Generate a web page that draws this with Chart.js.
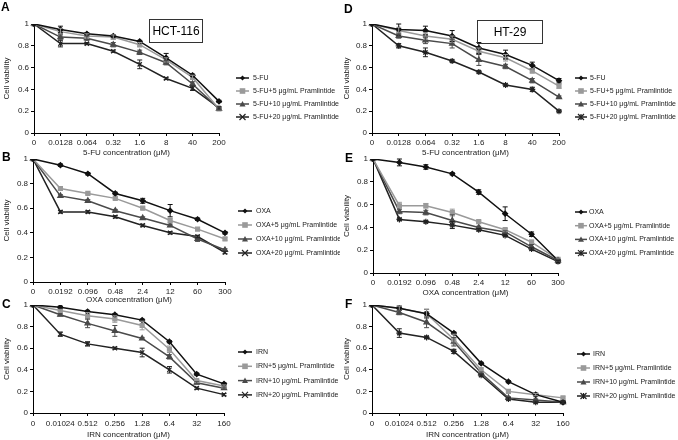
<!DOCTYPE html>
<html>
<head>
<meta charset="utf-8">
<script src="https://cdn.jsdelivr.net/npm/chart.js"></script>
<style>
  body { margin: 0; background: #fff; }
  #fig { position: relative; width: 678px; height: 440px; overflow: hidden; font-family: "Liberation Sans", Arial, sans-serif; }
  #fig canvas { position: absolute; }
  .plabel { position: absolute; font-weight: bold; font-size: 12px; color: #000; }
  .cellbox { position: absolute; border: 1px solid #333; font-size: 12px; text-align: center; box-sizing: border-box; }
</style>
</head>
<body>
<div id="fig">
  <canvas id="cA" width="340" height="160" style="left:0;top:0"></canvas>
  <canvas id="cD" width="338" height="160" style="left:340px;top:0"></canvas>
  <canvas id="cB" width="340" height="160" style="left:0;top:145px"></canvas>
  <canvas id="cE" width="338" height="155" style="left:340px;top:145px"></canvas>
  <canvas id="cC" width="340" height="150" style="left:0;top:290px"></canvas>
  <canvas id="cF" width="338" height="150" style="left:340px;top:290px"></canvas>
  <div class="plabel" style="left:1px;top:0px">A</div>
  <div class="plabel" style="left:344px;top:2px">D</div>
  <div class="plabel" style="left:2px;top:150px">B</div>
  <div class="plabel" style="left:345px;top:151px">E</div>
  <div class="plabel" style="left:2px;top:297px">C</div>
  <div class="plabel" style="left:345px;top:297px">F</div>
  <div class="cellbox" style="left:149px;top:19px;width:54px;height:24px;line-height:22px">HCT-116</div>
  <div class="cellbox" style="left:477px;top:20px;width:66px;height:24px;line-height:22px">HT-29</div>
</div>
<script>
const fuLabels = ['0', '0.0128', '0.064', '0.32', '1.6', '8', '40', '200']
const oxaLabels = ['0', '0.0192', '0.096', '0.48', '2.4', '12', '60', '300']
const irnLabels = ['0', '0.01024', '0.512', '0.256', '1.28', '6.4', '32', '160']

// A - HCT-116, 5-FU
const hctFu    = [1, 0.95, 0.91, 0.89, 0.84, 0.69, 0.53, 0.29]
const hctFu5   = [1, 0.93, 0.89, 0.88, 0.81, 0.67, 0.51, 0.22]
const hctFu10  = [1, 0.88, 0.87, 0.81, 0.74, 0.645, 0.45, 0.22]
const hctFu20  = [1, 0.82, 0.82, 0.75, 0.63, 0.50, 0.41, 0.23]
const hctFuErr   = [0, 0.03, 0.01, 0.01, 0.01, 0.04, 0.01, 0.01]
const hctFu5Err  = [0, 0.03, 0.02, 0.02, 0.02, 0.02, 0.02, 0.01]
const hctFu10Err = [0, 0.02, 0.02, 0.02, 0.02, 0.02, 0.02, 0.01]
const hctFu20Err = [0, 0.03, 0.01, 0.01, 0.04, 0.01, 0.02, 0.01]

// D - HT-29, 5-FU
const htFu    = [1, 0.95, 0.94, 0.89, 0.78, 0.72, 0.62, 0.48]
const htFu5   = [1, 0.94, 0.89, 0.86, 0.75, 0.69, 0.57, 0.43]
const htFu10  = [1, 0.89, 0.85, 0.82, 0.67, 0.61, 0.48, 0.33]
const htFu20  = [1, 0.80, 0.74, 0.66, 0.56, 0.44, 0.40, 0.20]
const htFuErr   = [0, 0.05, 0.04, 0.05, 0.05, 0.04, 0.03, 0.02]
const htFu5Err  = [0, 0.03, 0.03, 0.03, 0.03, 0.03, 0.02, 0.02]
const htFu10Err = [0, 0.02, 0.03, 0.04, 0.05, 0.02, 0.02, 0.01]
const htFu20Err = [0, 0.02, 0.04, 0.01, 0.01, 0.01, 0.02, 0.01]

// B - HCT-116, OXA
const hctOxa    = [1, 0.95, 0.88, 0.72, 0.66, 0.58, 0.51, 0.40]
const hctOxa5   = [1, 0.76, 0.72, 0.68, 0.60, 0.50, 0.43, 0.35]
const hctOxa10  = [1, 0.70, 0.66, 0.58, 0.52, 0.46, 0.35, 0.26]
const hctOxa20  = [1, 0.57, 0.57, 0.53, 0.46, 0.40, 0.37, 0.24]
const hctOxaErr   = [0, 0.01, 0.01, 0.01, 0.02, 0.05, 0.01, 0.01]
const hctOxa5Err  = [0, 0.01, 0.01, 0.01, 0.01, 0.02, 0.01, 0.01]
const hctOxa10Err = [0, 0.01, 0.01, 0.01, 0.01, 0.01, 0.02, 0.01]
const hctOxa20Err = [0, 0.01, 0.01, 0.01, 0.01, 0.01, 0.01, 0.01]

// E - HT-29, OXA
const htOxa    = [1, 0.97, 0.93, 0.87, 0.71, 0.52, 0.34, 0.11]
const htOxa5   = [1, 0.59, 0.59, 0.53, 0.45, 0.38, 0.27, 0.12]
const htOxa10  = [1, 0.54, 0.53, 0.46, 0.40, 0.36, 0.23, 0.11]
const htOxa20  = [1, 0.47, 0.45, 0.42, 0.38, 0.33, 0.21, 0.10]
const htOxaErr   = [0, 0.03, 0.02, 0.01, 0.02, 0.06, 0.02, 0.01]
const htOxa5Err  = [0, 0.03, 0.02, 0.03, 0.01, 0.01, 0.02, 0.01]
const htOxa10Err = [0, 0.02, 0.02, 0.05, 0.01, 0.01, 0.02, 0.01]
const htOxa20Err = [0, 0.01, 0.01, 0.03, 0.01, 0.01, 0.01, 0.01]

// C - HCT-116, IRN
const hctIrn    = [1, 0.98, 0.94, 0.91, 0.86, 0.66, 0.36, 0.27]
const hctIrn5   = [1, 0.95, 0.90, 0.87, 0.81, 0.59, 0.30, 0.25]
const hctIrn10  = [1, 0.91, 0.83, 0.76, 0.69, 0.52, 0.28, 0.23]
const hctIrn20  = [1, 0.73, 0.64, 0.60, 0.56, 0.40, 0.23, 0.17]
const hctIrnErr   = [0, 0.01, 0.01, 0.01, 0.01, 0.01, 0.01, 0.01]
const hctIrn5Err  = [0, 0.01, 0.03, 0.03, 0.04, 0.03, 0.01, 0.01]
const hctIrn10Err = [0, 0.01, 0.04, 0.05, 0.01, 0.02, 0.01, 0.01]
const hctIrn20Err = [0, 0.02, 0.02, 0.01, 0.04, 0.03, 0.01, 0.01]

// F - HT-29, IRN
const htIrn    = [1, 0.97, 0.92, 0.74, 0.46, 0.29, 0.17, 0.10]
const htIrn5   = [1, 0.97, 0.92, 0.68, 0.40, 0.20, 0.17, 0.14]
const htIrn10  = [1, 0.93, 0.84, 0.66, 0.37, 0.14, 0.12, 0.10]
const htIrn20  = [1, 0.74, 0.70, 0.57, 0.35, 0.13, 0.10, 0.10]
const htIrnErr   = [0, 0.02, 0.04, 0.01, 0.01, 0.01, 0.01, 0.01]
const htIrn5Err  = [0, 0.02, 0.04, 0.05, 0.02, 0.01, 0.01, 0.01]
const htIrn10Err = [0, 0.02, 0.05, 0.04, 0.01, 0.01, 0.01, 0.01]
const htIrn20Err = [0, 0.04, 0.01, 0.02, 0.01, 0.01, 0.01, 0.01]

const suffixes = ['', '+5 μg/mL Pramlintide', '+10 μg/mL Pramlintide', '+20 μg/mL Pramlintide']
const lineColors = ['#111111', '#9a9a9a', '#4a4a4a', '#222222']
const FONT = '"Liberation Sans", Arial, sans-serif'

// marker used in plot and legend
function drawMarker(ctx, style, x, y, r, color) {
  ctx.save()
  ctx.fillStyle = color
  ctx.strokeStyle = color
  ctx.lineWidth = 1.2
  ctx.beginPath()
  if (style === 'rectRot') {
    ctx.moveTo(x, y - r); ctx.lineTo(x + r, y); ctx.lineTo(x, y + r); ctx.lineTo(x - r, y); ctx.closePath(); ctx.fill()
  } else if (style === 'rect') {
    ctx.rect(x - r, y - r, 2 * r, 2 * r); ctx.fill()
  } else if (style === 'triangle') {
    ctx.moveTo(x, y - r); ctx.lineTo(x + r, y + r * 0.8); ctx.lineTo(x - r, y + r * 0.8); ctx.closePath(); ctx.fill()
  } else {
    ctx.moveTo(x - r, y - r); ctx.lineTo(x + r, y + r); ctx.moveTo(x + r, y - r); ctx.lineTo(x - r, y + r)
    if (style === 'star') { ctx.moveTo(x, y - r); ctx.lineTo(x, y + r) }
    ctx.stroke()
  }
  ctx.restore()
}

const errorBars = {
  id: 'errorBars',
  afterDatasetsDraw(chart) {
    const ctx = chart.ctx
    const ys = chart.scales.y
    chart.data.datasets.forEach((ds, i) => {
      const meta = chart.getDatasetMeta(i)
      ctx.save()
      ctx.strokeStyle = ds.borderColor
      ctx.lineWidth = 1
      meta.data.forEach((pt, j) => {
        const e = ds.err[j]
        if (!e) return
        const y1 = ys.getPixelForValue(ds.data[j] + e)
        const y2 = ys.getPixelForValue(ds.data[j] - e)
        ctx.beginPath()
        ctx.moveTo(pt.x, y1); ctx.lineTo(pt.x, y2)
        ctx.moveTo(pt.x - 2.5, y1); ctx.lineTo(pt.x + 2.5, y1)
        ctx.moveTo(pt.x - 2.5, y2); ctx.lineTo(pt.x + 2.5, y2)
        ctx.stroke()
      })
      ctx.restore()
    })
  }
}

const sideLegend = {
  id: 'sideLegend',
  afterDraw(chart) {
    const o = chart.options.plugins.sideLegend
    const ctx = chart.ctx
    chart.data.datasets.forEach((ds, i) => {
      const y = o.y + i * o.gap
      ctx.save()
      ctx.strokeStyle = ds.borderColor
      ctx.lineWidth = 1.5
      ctx.beginPath()
      ctx.moveTo(o.x, y); ctx.lineTo(o.x + o.len, y)
      ctx.stroke()
      ctx.restore()
      drawMarker(ctx, ds.pointStyle, o.x + o.len / 2, y, ds.pointRadius, ds.borderColor)
      ctx.save()
      ctx.fillStyle = '#222'
      ctx.font = '7px ' + FONT
      ctx.textBaseline = 'middle'
      ctx.fillText(ds.label, o.textX, y)
      ctx.restore()
    })
  }
}

function make_chart(id, p) {
  const styles = ['rectRot', 'rect', 'triangle', p.xStyle]
  const radii = [2.5, 2.8, 3, 3]
  const datasets = p.series.map((s, i) => ({
    label: p.drug + suffixes[i],
    data: s,
    err: p.errs[i],
    borderColor: lineColors[i],
    backgroundColor: lineColors[i],
    borderWidth: 1.5,
    pointStyle: styles[i],
    pointRadius: radii[i],
    pointBorderWidth: 1.2,
    tension: 0,
    fill: false
  }))
  new Chart(document.getElementById(id), {
    type: 'line',
    data: { labels: p.labels, datasets: datasets },
    plugins: [errorBars, sideLegend],
    options: {
      responsive: false,
      animation: false,
      devicePixelRatio: 1,
      layout: { padding: { left: 0, top: p.top, right: p.right, bottom: 0 } },
      plugins: {
        legend: { display: false },
        tooltip: { enabled: false },
        sideLegend: p.legend
      },
      scales: {
        x: {
          type: 'category',
          offset: false,
          grid: { display: true, drawOnChartArea: false, drawTicks: true, tickLength: 3, color: '#000', tickColor: '#000' },
          border: { display: true, color: '#000', width: 1 },
          ticks: { color: '#222', font: { family: FONT, size: 8 }, padding: p.tickPad, maxRotation: 0, autoSkip: false },
          title: { display: true, text: p.xTitle, color: '#222', font: { family: FONT, size: 8 }, padding: { top: 0, bottom: p.titlePad } },
          afterFit: s => { s.height = p.xHeight; s.paddingLeft = 0; s.paddingRight = 0 }
        },
        y: {
          min: 0,
          max: 1,
          grid: { display: true, drawOnChartArea: false, drawTicks: true, tickLength: 3, color: '#000', tickColor: '#000' },
          border: { display: true, color: '#000', width: 1 },
          ticks: { stepSize: 0.1, color: '#222', font: { family: FONT, size: 8 }, padding: 2,
                   callback: v => String(Number(v.toFixed(1))) },
          title: { display: true, text: 'Cell viability', color: '#222', font: { family: FONT, size: 8 }, padding: { top: 2, bottom: 2 } },
          afterFit: s => { s.width = p.yWidth; s.paddingTop = 0; s.paddingBottom = 0 }
        }
      }
    }
  })
}

make_chart('cA', {
  labels: fuLabels, drug: '5-FU', xTitle: '5-FU concentration (μM)', xStyle: 'crossRot',
  series: [hctFu, hctFu5, hctFu10, hctFu20], errs: [hctFuErr, hctFu5Err, hctFu10Err, hctFu20Err],
  top: 24, right: 121, yWidth: 34, xHeight: 27, tickPad: 2, titlePad: 2,
  legend: { x: 236, len: 13, textX: 253, y: 78, gap: 13 }
})
make_chart('cD', {
  labels: fuLabels, drug: '5-FU', xTitle: '5-FU concentration (μM)', xStyle: 'star',
  series: [htFu, htFu5, htFu10, htFu20], errs: [htFuErr, htFu5Err, htFu10Err, htFu20Err],
  top: 24, right: 119, yWidth: 32, xHeight: 27, tickPad: 2, titlePad: 2,
  legend: { x: 235, len: 12, textX: 250, y: 78, gap: 13 }
})
make_chart('cB', {
  labels: oxaLabels, drug: 'OXA', xTitle: 'OXA concentration (μM)', xStyle: 'crossRot',
  series: [hctOxa, hctOxa5, hctOxa10, hctOxa20], errs: [hctOxaErr, hctOxa5Err, hctOxa10Err, hctOxa20Err],
  top: 14, right: 115, yWidth: 33, xHeight: 23, tickPad: 2, titlePad: 0,
  legend: { x: 238, len: 14, textX: 256, y: 66, gap: 14 }
})
make_chart('cE', {
  labels: oxaLabels, drug: 'OXA', xTitle: 'OXA concentration (μM)', xStyle: 'star',
  series: [htOxa, htOxa5, htOxa10, htOxa20], errs: [htOxaErr, htOxa5Err, htOxa10Err, htOxa20Err],
  top: 14, right: 120, yWidth: 33, xHeight: 27, tickPad: 2, titlePad: 2,
  legend: { x: 235, len: 12, textX: 249, y: 67, gap: 13.7 }
})
make_chart('cC', {
  labels: irnLabels, drug: 'IRN', xTitle: 'IRN concentration (μM)', xStyle: 'crossRot',
  series: [hctIrn, hctIrn5, hctIrn10, hctIrn20], errs: [hctIrnErr, hctIrn5Err, hctIrn10Err, hctIrn20Err],
  top: 15, right: 116, yWidth: 33, xHeight: 27, tickPad: 3, titlePad: 0,
  legend: { x: 238, len: 14, textX: 256, y: 62, gap: 14.3 }
})
make_chart('cF', {
  labels: irnLabels, drug: 'IRN', xTitle: 'IRN concentration (μM)', xStyle: 'star',
  series: [htIrn, htIrn5, htIrn10, htIrn20], errs: [htIrnErr, htIrn5Err, htIrn10Err, htIrn20Err],
  top: 15, right: 115, yWidth: 32, xHeight: 27, tickPad: 3, titlePad: 0,
  legend: { x: 237, len: 13, textX: 253, y: 64, gap: 14 }
})
</script>
</body>
</html>
